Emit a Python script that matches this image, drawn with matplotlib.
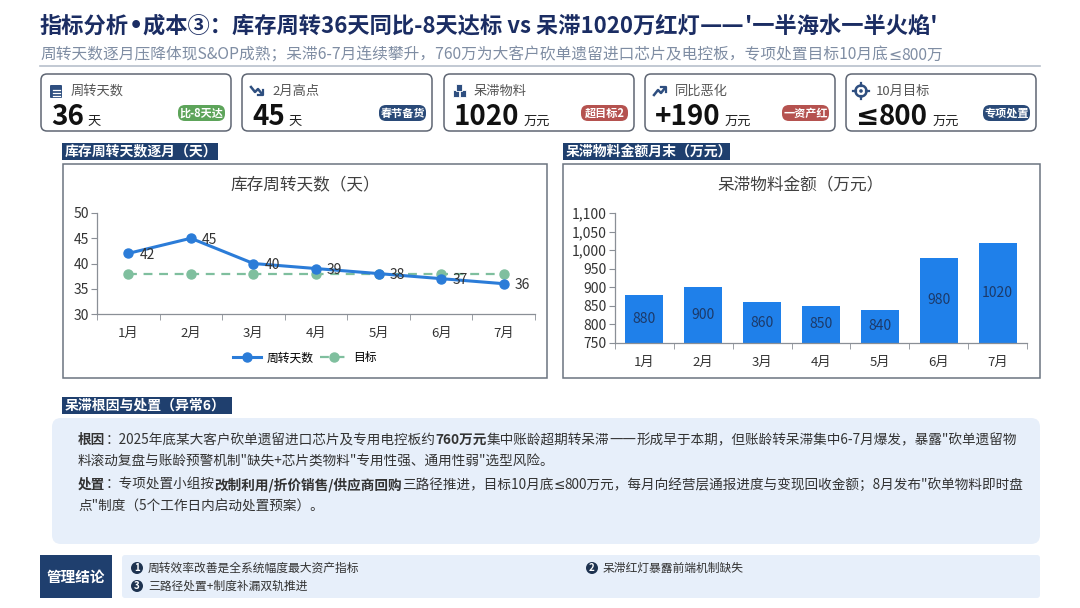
import matplotlib
matplotlib.use('Agg')
import matplotlib.pyplot as plt
from matplotlib.patches import FancyBboxPatch, Rectangle, Circle
from matplotlib.ticker import FuncFormatter, FixedLocator

plt.rcParams['font.family'] = ['Noto Sans CJK SC', 'DejaVu Sans']

# ================================ data ================================ #
months = ['1月', '2月', '3月', '4月', '5月', '6月', '7月']
turnover_days = [42, 45, 40, 39, 38, 37, 36]
target_days = [38, 38, 38, 38, 38, 38, 38]
idle_amount = [880, 900, 860, 850, 840, 980, 1020]

kpi_labels = ['周转天数', '2月高点', '呆滞物料', '同比恶化', '10月目标']
kpi_values = ['36', '45', '1020', '+190', '≤800']
kpi_units = ['天', '天', '万元', '万元', '万元']
kpi_badges = ['比-8天达', '春节备货', '超目标2', '一资产红', '专项处置']

title = "指标分析•成本③：库存周转36天同比-8天达标 vs 呆滞1020万红灯——'一半海水一半火焰'"
subtitle = "周转天数逐月压降体现S&OP成熟；呆滞6-7月连续攀升，760万为大客户砍单遗留进口芯片及电控板，专项处置目标10月底≤800万"

cause_lines = [
    [('根因', True), ('：2025年底某大客户砍单遗留进口芯片及专用电控板约', False), ('760万元', True),
     ('集中账龄超期转呆滞——形成早于本期，但账龄转呆滞集中6-7月爆发，暴露"砍单遗留物', False)],
    [('料滚动复盘与账龄预警机制"缺失+芯片类物料"专用性强、通用性弱"选型风险。', False)],
    [('处置', True), ('：专项处置小组按', False), ('改制利用/折价销售/供应商回购', True),
     ('三路径推进，目标10月底≤800万元，每月向经营层通报进度与变现回收金额；8月发布"砍单物料即时盘', False)],
    [('点"制度（5个工作日内启动处置预案）。', False)],
]
conclusions = ['周转效率改善是全系统幅度最大资产指标', '呆滞红灯暴露前端机制缺失', '三路径处置+制度补漏双轨推进']

# ================================ styles ================================ #
W, H = 1080, 608
NAVY = '#1f3f6e'
TITLE_C = '#1b2d63'
badge_colors = ['#5da45a', '#2a4a78', '#b5524f', '#b5524f', '#2a4a78']
LINE_C = '#2b7cd8'
TARGET_C = '#7fbf9e'
BAR_C = '#1f80ea'
SPECIAL = '•≤—'   # drawn with DejaVu, the CJK glyphs look off


def fx(x):
    return x / W


def fy(y):
    return 1 - y / H


fig = plt.figure(figsize=(W / 100, H / 100), dpi=100)
fig.patch.set_facecolor('white')
bg = fig.add_axes([0, 0, 1, 1])
bg.set_xlim(0, W)
bg.set_ylim(H, 0)
bg.axis('off')
renderer = fig.canvas.get_renderer()


def runs(s):
    out = []
    for ch in s:
        sp = ch in SPECIAL
        if out and out[-1][1] == sp:
            out[-1][0] += ch
        else:
            out.append([ch, sp])
    return out


def rich(x, y, parts, size, color='#333333', va='center', z=3):
    for txt, bold in parts:
        for piece, sp in runs(txt):
            fam = ['DejaVu Sans'] if sp else ['Noto Sans CJK SC', 'DejaVu Sans']
            t = bg.text(x, y, piece, fontsize=size, fontweight='bold' if bold else 'normal',
                        va=va, ha='left', color=color, family=fam, zorder=z)
            x += t.get_window_extent(renderer=renderer).width
    return x


def rbox(x0, y0, x1, y1, fc, ec='none', lw=0, r=6, z=1):
    p = FancyBboxPatch((x0 + r, y0 + r), x1 - x0 - 2 * r, y1 - y0 - 2 * r,
                       boxstyle='round,pad=%d' % r, fc=fc, ec=ec, lw=lw, zorder=z)
    bg.add_patch(p)
    return p


def section(x0, y0, x1, y1, txt):
    bg.add_patch(Rectangle((x0, y0), x1 - x0, y1 - y0, fc=NAVY, ec='none'))
    bg.text(x0 + 3, (y0 + y1) / 2, txt, color='white', fontsize=10, fontweight='bold',
            va='center', ha='left')


# ---------- header ----------
rich(40, 26, [(title, True)], 16, color=TITLE_C)
rich(40, 55, [(subtitle, False)], 11.3, color='#7f8da3')
bg.plot([40, 1040], [66, 66], color='#b8c0cc', lw=1.2)

# ---------- KPI cards ----------
card_x = [41, 242, 444, 645, 846]
icon_c = '#2f4f80'
for i, cx in enumerate(card_x):
    rbox(cx, 74, cx + 190, 131, fc='white', ec='#5f6673', lw=1.1, r=6, z=2)
    ix, iy = cx + 15, 91
    if i == 0:
        bg.add_patch(FancyBboxPatch((ix - 5, iy - 5), 10, 11, boxstyle='round,pad=1', fc=icon_c, ec='none', zorder=3))
        for dy in (-1, 2, 5):
            bg.plot([ix - 3.5, ix + 3.5], [iy + dy, iy + dy], color='white', lw=0.9, zorder=4)
    elif i == 1:
        bg.plot([ix - 6, ix - 2, ix + 1, ix + 5], [iy - 4, iy + 1, iy - 2, iy + 3], color=icon_c, lw=1.8, zorder=3)
        bg.plot([ix + 1, ix + 6, ix + 6], [iy + 4, iy + 4, iy - 1], color=icon_c, lw=1.6, zorder=3)
    elif i == 2:
        for bx, by in [(ix - 6, iy - 1), (ix + 1, iy - 1), (ix - 3, iy - 7)]:
            bg.add_patch(Rectangle((bx, by), 6, 7, fc=icon_c, ec='white', lw=0.6, zorder=3))
    elif i == 3:
        bg.plot([ix - 6, ix - 2, ix + 1, ix + 5], [iy + 4, iy - 1, iy + 2, iy - 3], color=icon_c, lw=1.8, zorder=3)
        bg.plot([ix + 1, ix + 6, ix + 6], [iy - 4, iy - 4, iy + 1], color=icon_c, lw=1.6, zorder=3)
    else:
        bg.add_patch(Circle((ix, iy), 5.5, fc='none', ec=icon_c, lw=1.8, zorder=3))
        bg.add_patch(Circle((ix, iy), 1.8, fc=icon_c, ec='none', zorder=3))
        bg.plot([ix, ix], [iy - 8, iy - 5], color=icon_c, lw=1.6, zorder=3)
        bg.plot([ix, ix], [iy + 5, iy + 8], color=icon_c, lw=1.6, zorder=3)
        bg.plot([ix - 8, ix - 5], [iy, iy], color=icon_c, lw=1.6, zorder=3)
        bg.plot([ix + 5, ix + 8], [iy, iy], color=icon_c, lw=1.6, zorder=3)
    bg.text(cx + 30, 91, kpi_labels[i], fontsize=9.5, color='#555555', va='center', ha='left', zorder=3)
    vx = rich(cx + 10, 125, [(kpi_values[i], True)], 20, color='#111111', va='baseline')
    bg.text(vx + 4, 125, kpi_units[i], fontsize=9.5, color='#222222', va='baseline', ha='left', zorder=3)
    bx0, bx1 = cx + 137, cx + 184
    badge = rbox(bx0, 105, bx1, 121, fc=badge_colors[i], r=7, z=3)
    bt = bg.text((bx0 + bx1) / 2, 113, kpi_badges[i], fontsize=8, fontweight='bold', color='white',
                 va='center', ha='center', zorder=4)
    bt.set_clip_path(badge)

# ---------- chart frames ----------
section(62, 143, 218, 160, '库存周转天数逐月（天）')
section(563, 143, 730, 160, '呆滞物料金额月末（万元）')
bg.add_patch(Rectangle((63, 164), 484, 214, fc='white', ec='#6b7480', lw=1.1))
bg.add_patch(Rectangle((563, 164), 477, 214, fc='white', ec='#6b7480', lw=1.1))
bg.text(305, 185, '库存周转天数（天）', fontsize=12, color='#404040', va='center', ha='center')
bg.text(801, 185, '呆滞物料金额（万元）', fontsize=12, color='#404040', va='center', ha='center')

xs = list(range(len(months)))


def style_cat_axis(ax):
    for s in ('top', 'right'):
        ax.spines[s].set_visible(False)
    for s in ('left', 'bottom'):
        ax.spines[s].set_color('#8a8f96')
        ax.spines[s].set_linewidth(0.9)
    ax.set_xlim(-0.5, len(months) - 0.5)
    ax.set_xticks(xs)
    ax.set_xticklabels(months, fontsize=9.5, color='#333333')
    ax.xaxis.set_minor_locator(FixedLocator([v - 0.5 for v in range(len(months) + 1)]))
    ax.tick_params(axis='x', which='major', length=0, pad=9)
    ax.tick_params(axis='x', which='minor', length=4, color='#8a8f96')
    ax.tick_params(axis='y', length=4, color='#8a8f96', labelsize=10, labelcolor='#333333', pad=2)
    ax.patch.set_alpha(0)


# ---------- left: turnover line ----------
ax1 = fig.add_axes([fx(97), fy(314), (535 - 97) / W, (314 - 213) / H])
ax1.plot(xs, turnover_days, color=LINE_C, lw=2.2, marker='o', ms=6.5, label='周转天数', zorder=3)
ax1.plot(xs, target_days, color=TARGET_C, lw=1.6, ls=(0, (4, 3)), marker='o', ms=6.5, label='目标', zorder=2)
for x, v in zip(xs, turnover_days):
    ax1.annotate(str(v), (x, v), xytext=(8, -1), textcoords='offset points', fontsize=10,
                 color='#333333', va='center', ha='left')
ax1.set_ylim(30, 50)
ax1.set_yticks([30, 35, 40, 45, 50])
style_cat_axis(ax1)
ax1.legend(loc='center', bbox_to_anchor=(fx(305), fy(358)), bbox_transform=fig.transFigure,
           ncol=2, frameon=False, fontsize=8.5, handlelength=2.4, columnspacing=0.6, handletextpad=0.4)

# ---------- right: idle bars ----------
ax2 = fig.add_axes([fx(615), fy(343), (1027 - 615) / W, (343 - 213) / H])
ax2.bar(xs, [v - 750 for v in idle_amount], bottom=750, width=0.645, color=BAR_C, zorder=2)
for x, v in zip(xs, idle_amount):
    ax2.text(x, (750 + v) / 2, str(v), fontsize=10, color='#1c3a6a', ha='center', va='center', zorder=3)
ax2.set_ylim(750, 1100)
ax2.set_yticks(range(750, 1101, 50))
ax2.yaxis.set_major_formatter(FuncFormatter(lambda v, p: '{:,.0f}'.format(v)))
style_cat_axis(ax2)

# ---------- cause & disposal ----------
section(62, 397, 232, 414, '呆滞根因与处置（异常6）')
rbox(52, 418, 1040, 544, fc='#e7effa', r=9)
for line, yy in zip(cause_lines, [440, 462, 485, 507]):
    rich(78, yy, line, 9.8)

# ---------- conclusions ----------
bg.add_patch(Rectangle((40, 555), 72, 43, fc=NAVY, ec='none'))
bg.text(76, 577, '管理结论', fontsize=10.5, fontweight='bold', color='white', va='center', ha='center')
rbox(122, 555, 1040, 598, fc='#e7effa', r=3)
for k, (txt, (cx, cy)) in enumerate(zip(conclusions, [(137, 568), (592, 568), (137, 586)])):
    bg.add_patch(Circle((cx, cy), 6, fc='#1e3350', ec='none', zorder=3))
    bg.text(cx, cy + 0.3, str(k + 1), fontsize=7, fontweight='bold', color='white',
            va='center', ha='center', zorder=4)
    bg.text(cx + 11, cy, txt, fontsize=8.5, color='#333333', va='center', ha='left')

fig.savefig('out.png', dpi=100, facecolor='white')
